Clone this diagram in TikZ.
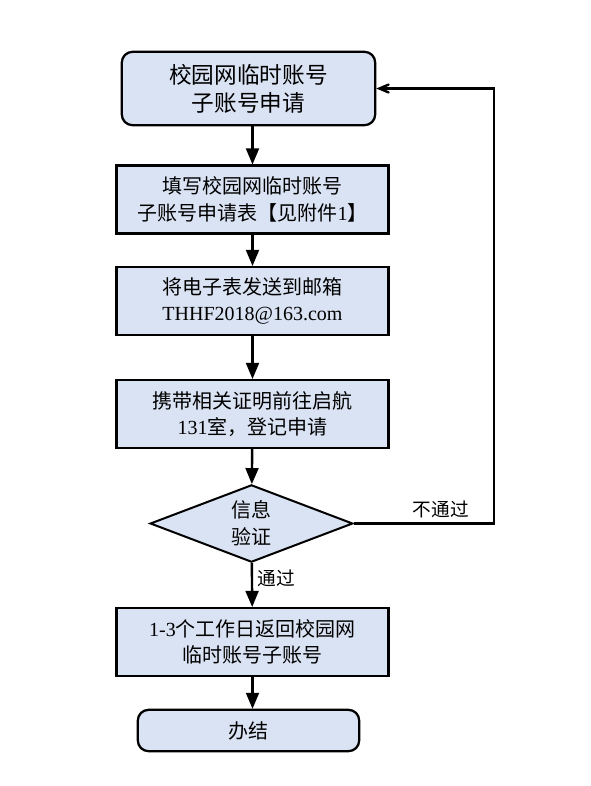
\documentclass[tikz,border=0pt]{standalone}
\usepackage{fontspec}
\setmainfont{Noto Sans CJK SC}
\newfontfamily\lat{Liberation Serif}
\usetikzlibrary{arrows,shapes.geometric}
\definecolor{paleblue}{RGB}{218, 227, 243}

\begin{document}
\begin{tikzpicture}[x=0.75pt, y=-0.75pt,
    box/.style={draw=black, fill=paleblue, line width=1.7pt, align=center, inner sep=0pt,
                minimum width=204pt, minimum height=51pt, font=\fontsize{15}{20}\selectfont},
    roundbox/.style={box, rounded corners=8pt},
    decision/.style={diamond, draw=black, fill=paleblue, line width=1.5pt, align=center, inner sep=0pt,
                     aspect=2.64, minimum width=152pt, minimum height=58pt, font=\fontsize{15}{20}\selectfont},
    flow/.style={line width=1.8pt, -triangle 45},
    back/.style={line width=1.8pt, -angle 45},
    tag/.style={font=\fontsize{14}{17}\selectfont}]
    \useasboundingbox (0, 0) rectangle (590, 786);
    % boxes
    \node[roundbox, minimum width=190pt, minimum height=55pt, font=\fontsize{17}{21}\selectfont]
                        (apply)  at (248.5,  88.5) {校园网临时账号\\子账号申请};
    \node[box]          (form)   at (252.5, 199.5) {填写校园网临时账号\\子账号申请表【见附件{\lat 1}】};
    \node[box]          (mail)   at (252.5, 301.0) {将电子表发送到邮箱\\{\lat THHF2018@163.com}};
    \node[box]          (visit)  at (252.5, 414.0) {携带相关证明前往启航\\{\lat 131}室，登记申请};
    \node[decision]     (check)  at (251.5, 523.5) {信息\\验证};
    \node[box]          (result) at (252.5, 642.0) {{\lat 1-3}个工作日返回校园网\\临时账号子账号};
    \node[roundbox, minimum width=166pt, minimum height=31pt]
                        (done)   at (248.5, 730.5) {办结};
    \coordinate         (turn)   at (494, 88.5);
    % connectors
    \draw[flow] (apply.south -| form.north) -- (form.north);
    \draw[flow] (form)   -- (mail);
    \draw[flow] (mail)   -- (visit);
    \draw[flow] (visit)  -- (check);
    \draw[flow] (check)  -- node[tag, right, pos=0.35] {通过} (result);
    \draw[flow] (result.south) -- (result.south |- done.north);
    \draw[back] (check.east) -| node[tag, above, pos=0.31] {不通过} (turn) -- (apply.east);
\end{tikzpicture}
\end{document}
